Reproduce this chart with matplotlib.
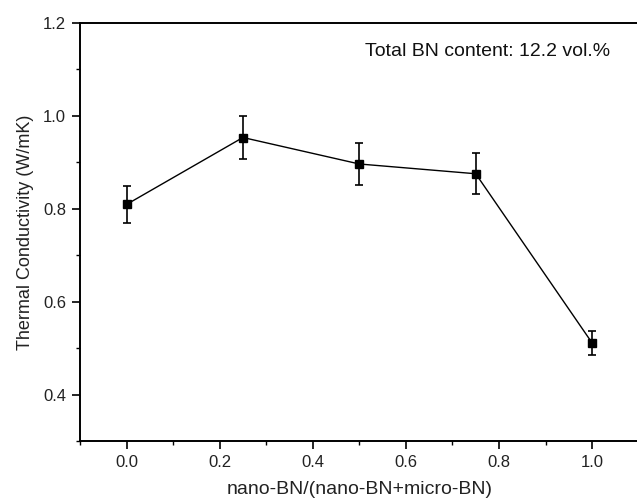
import matplotlib.pyplot as plt
from matplotlib.ticker import MultipleLocator

plt.rcParams['font.family'] = ['Liberation Sans', 'DejaVu Sans']

# nano-BN fraction and measured conductivity
ratio = [0.0, 0.25, 0.5, 0.75, 1.0]
conductivity = [0.809, 0.953, 0.896, 0.875, 0.511]
error = [0.039, 0.047, 0.045, 0.044, 0.025]

fig = plt.figure(figsize=(6.37, 5.0), dpi=100)
ax = fig.add_axes([0.1256, 0.118, 0.877, 0.8366])

ax.errorbar(ratio, conductivity, yerr=error, color='black', lw=1.0,
            marker='s', markersize=5.5, elinewidth=1.2, capsize=3, capthick=1.2)

ax.set_xlim(-0.1, 1.1)
ax.set_ylim(0.3, 1.2)
ax.xaxis.set_major_locator(MultipleLocator(0.2))
ax.xaxis.set_minor_locator(MultipleLocator(0.1))
ax.yaxis.set_major_locator(MultipleLocator(0.2))
ax.yaxis.set_minor_locator(MultipleLocator(0.1))
ax.set_yticks([0.4, 0.6, 0.8, 1.0, 1.2])

ax.tick_params(which='major', direction='out', length=6, width=1.2,
               labelsize=12, labelcolor='#222222', pad=4)
ax.tick_params(which='minor', direction='out', length=3, width=1.0)
ax.tick_params(top=False, right=False, which='both')

for side in ['left', 'bottom', 'top']:
    ax.spines[side].set_linewidth(1.4)
ax.spines['right'].set_visible(False)

ax.set_xlabel('nano-BN/(nano-BN+micro-BN)', fontsize=14, color='#222222', va='center')
ax.set_ylabel('Thermal Conductivity (W/mK)', fontsize=13, color='#222222', va='center')
ax.xaxis.set_label_coords(0.5, -0.117)
ax.yaxis.set_label_coords(-0.098, 0.5)

ax.text(0.512, 1.137, 'Total BN content: 12.2 vol.%', fontsize=14,
        color='#111111', ha='left', va='center')

fig.savefig('out.png', dpi=100)
